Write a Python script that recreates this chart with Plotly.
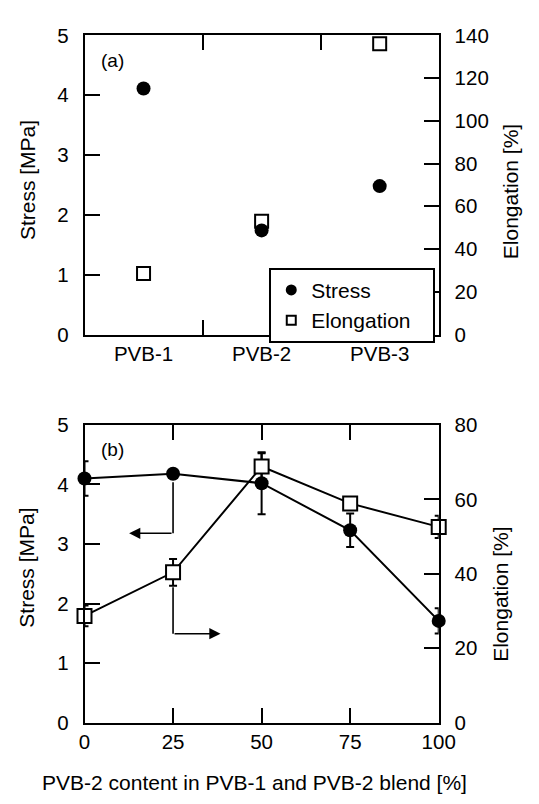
import plotly.graph_objects as go
from plotly.subplots import make_subplots

# ---- data: panel (a)
grades = ["PVB-1", "PVB-2", "PVB-3"]
stress_a = [4.11, 1.74, 2.48]
elong_a = [28.5, 53, 136]

# ---- data: panel (b)
content = [0, 25, 50, 75, 100]
stress_b = [4.10, 4.18, 4.02, 3.23, 1.71]
stress_b_err = [0.29, 0.05, 0.52, 0.28, 0.21]
elong_b = [28.7, 40.4, 68.8, 58.9, 52.6]
elong_b_err = [2.8, 3.6, 3.6, 1.5, 3.0]

FONT = "Arial, Liberation Sans, sans-serif"
BLACK = "black"

fig = make_subplots(rows=2, cols=1, specs=[[{"secondary_y": True}], [{"secondary_y": True}]])

# panel (a): elongation on the primary (right-side) axis, stress on the overlaying (left-side) axis
fig.add_trace(go.Scatter(x=grades, y=elong_a, mode="markers", showlegend=False, cliponaxis=False,
                         marker=dict(symbol="square", size=13, color="white", line=dict(color=BLACK, width=2))),
              row=1, col=1, secondary_y=False)
fig.add_trace(go.Scatter(x=grades, y=stress_a, mode="markers", showlegend=False, cliponaxis=False,
                         marker=dict(symbol="circle", size=14, color=BLACK)), row=1, col=1, secondary_y=True)
# legend-only entries
fig.add_trace(go.Scatter(x=[None], y=[None], mode="markers", name="Stress",
                         marker=dict(symbol="circle", size=11, color=BLACK)), row=1, col=1, secondary_y=True)
fig.add_trace(go.Scatter(x=[None], y=[None], mode="markers", name="Elongation\u00a0\u00a0\u00a0",
                         marker=dict(symbol="square", size=9, color="white", line=dict(color=BLACK, width=2))),
              row=1, col=1, secondary_y=True)

# panel (b)
fig.add_trace(go.Scatter(x=content, y=stress_b, mode="lines+markers", showlegend=False, cliponaxis=False,
                         line=dict(color=BLACK, width=2),
                         marker=dict(symbol="circle", size=14, color=BLACK),
                         error_y=dict(type="data", array=stress_b_err, color=BLACK, thickness=2, width=4)),
              row=2, col=1, secondary_y=False)
fig.add_trace(go.Scatter(x=content, y=elong_b, mode="lines+markers", showlegend=False, cliponaxis=False,
                         line=dict(color=BLACK, width=2),
                         marker=dict(symbol="square", size=14, color="white", line=dict(color=BLACK, width=2)),
                         error_y=dict(type="data", array=elong_b_err, color=BLACK, thickness=2, width=4)),
              row=2, col=1, secondary_y=True)

XD = [82 / 539, 452 / 539]
DA = [1 - 332 / 804, 1 - 24 / 804]
DB = [1 - 731.7 / 804, 1 - 425 / 804]

TICKFS = 20.5
TITLEFS = 21
PAD = "\u00a0\u2009"

axis_common = dict(showline=True, linecolor=BLACK, linewidth=2, ticks="inside", ticklen=15,
                   tickwidth=2, tickcolor=BLACK, showgrid=False, zeroline=False,
                   tickfont=dict(family=FONT, size=TICKFS, color=BLACK))

fig.update_layout(
    width=539, height=804, margin=dict(l=0, r=0, t=0, b=0),
    paper_bgcolor="white", plot_bgcolor="white",
    xaxis=dict(domain=XD, anchor="y", type="category", range=[-0.5, 2.5], tickson="boundaries",
               mirror="ticks", **axis_common),
    yaxis=dict(domain=DA, anchor="x", side="right", range=[0, 140], dtick=20, tickprefix=PAD, **axis_common),
    yaxis2=dict(domain=DA, anchor="x", overlaying="y", side="left", range=[0, 5], dtick=1,
                ticksuffix=PAD, **axis_common),
    xaxis2=dict(domain=XD, anchor="y3", range=[0, 100], tickvals=[0, 25, 50, 75, 100],
                mirror="ticks", **axis_common),
    yaxis3=dict(domain=DB, anchor="x2", range=[0, 5], dtick=1, ticksuffix=PAD, **axis_common),
    yaxis4=dict(domain=DB, anchor="x2", overlaying="y3", side="right", range=[0, 80], dtick=20,
                tickprefix=PAD, **axis_common),
    legend=dict(x=275 / 539, y=1 - 263.3 / 804, xanchor="left", yanchor="top",
                bgcolor="white", borderwidth=2, bordercolor=BLACK,
                font=dict(family=FONT, size=TITLEFS, color=BLACK), tracegroupgap=0),
)

# arrows in panel (b), drawn as annotation arrows in data coordinates
def seg(x0, y0, x1, y1, head):
    fig.add_annotation(xref="x2", yref="y3", axref="x2", ayref="y3", x=x1, y=y1, ax=x0, ay=y0,
                       text="", showarrow=True, arrowhead=head, arrowsize=1.4, arrowwidth=1.6,
                       arrowcolor=BLACK, standoff=0, startstandoff=0)

seg(25, 4.06, 25, 3.18, 0)
seg(25, 3.18, 12.6, 3.18, 2)
seg(25, 2.3, 25, 1.495, 0)
seg(25, 1.495, 38.4, 1.495, 2)

ann = [
    dict(text="(a)", x=97 / 539, y=1 - 50 / 804, xanchor="left", yanchor="middle", font_size=19),
    dict(text="(b)", x=97 / 539, y=1 - 450 / 804, xanchor="left", yanchor="middle", font_size=19),
    dict(text="Stress [MPa]", x=22 / 539, y=1 - 173 / 804, textangle=-90, xanchor="center", yanchor="middle", font_size=TITLEFS),
    dict(text="Stress [MPa]", x=22 / 539, y=1 - 572 / 804, textangle=-90, xanchor="center", yanchor="middle", font_size=TITLEFS),
    dict(text="Elongation [%]", x=527 / 539, y=1 - 185 / 804, textangle=-90, xanchor="center", yanchor="middle", font_size=TITLEFS),
    dict(text="Elongation [%]", x=517 / 539, y=1 - 599 / 804, textangle=-90, xanchor="center", yanchor="middle", font_size=TITLEFS),
    dict(text="PVB-2 content in PVB-1 and PVB-2 blend [%]", x=260 / 539, y=1 - 793 / 804,
         xanchor="center", yanchor="middle", font_size=TITLEFS),
]
for a in ann:
    fs = a.pop("font_size")
    fig.add_annotation(xref="paper", yref="paper", showarrow=False,
                       font=dict(family=FONT, size=fs, color=BLACK), **a)

fig.write_html("out.html")
